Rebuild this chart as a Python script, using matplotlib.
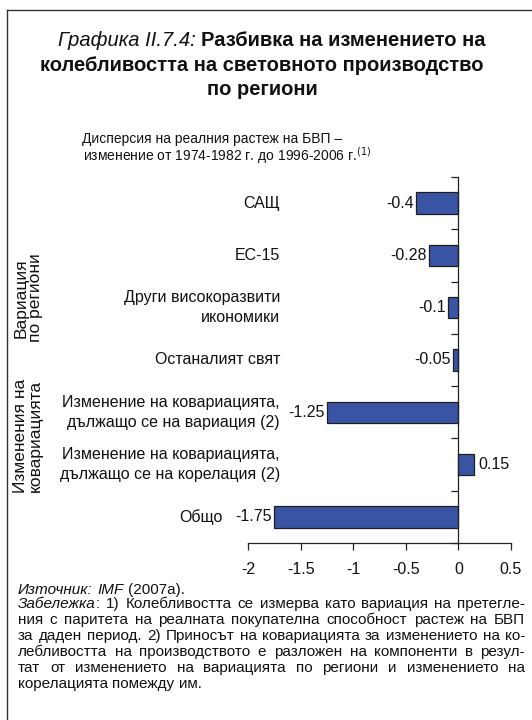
import matplotlib
matplotlib.use("Agg")
import matplotlib.pyplot as plt
from matplotlib.lines import Line2D

# ---- data ----
categories = [
    "САЩ",
    "ЕС-15",
    "Други високоразвити\nикономики",
    "Останалият свят",
    "Изменение на ковариацията,\nдължащо се на вариация (2)",
    "Изменение на ковариацията,\nдължащо се на корелация (2)",
    "Общо",
]
values = [-0.4, -0.28, -0.1, -0.05, -1.25, 0.15, -1.75]
x_ticks = [-2, -1.5, -1, -0.5, 0, 0.5]
x_tick_labels = ["-2", "-1.5", "-1", "-0.5", "0", "0.5"]
group_labels = ["Вариация\nпо региони", "Изменения на\nковариацията"]

title_prefix = "Графика II.7.4:"
title_lines = ["Разбивка на изменението на",
               "колебливостта на световното производство",
               "по региони"]
subtitle_lines = ["Дисперсия на реалния растеж на БВП –",
                  r"изменение от 1974-1982 г. до 1996-2006 г.$^{\rm (1)}$"]
source_line = "*Източник: IMF* (2007a)."
note_lines = [
    "*Забележка*: 1) Колебливостта се измерва като вариация на претегле-",
    "ния с паритета на реалната покупателна способност растеж на БВП",
    "за даден период. 2) Приносът на ковариацията за изменението на ко-",
    "лебливостта на производството е разложен на компоненти в резул-",
    "тат от изменението на вариацията по региони и изменението на",
    "корелацията помежду им.",
]

# ---- style ----
plt.rcParams["font.family"] = ["Liberation Sans", "DejaVu Sans"]
BAR_COLOR = "#3a54a4"
EDGE_COLOR = "#1e1e1e"
TEXT_COLOR = "#111111"
LABEL_SIZE = 11.5

W, H = 532, 720
fig = plt.figure(figsize=(W / 100, H / 100), dpi=100)


def fx(x):
    return x / W


def fy(y):
    return 1 - y / H


# frame (top and left rules)
fig.add_artist(Line2D([fx(7), fx(W)], [fy(10), fy(10)], color="#333333", lw=1.0))
fig.add_artist(Line2D([fx(7), fx(7)], [fy(10), fy(H)], color="#333333", lw=1.0))

# ---- axes ----
ax = fig.add_axes([fx(248), fy(543), fx(511) - fx(248), (543 - 177) / H])
n = len(categories)
ypos = list(range(n))
ax.barh(ypos, values, height=0.41, color=BAR_COLOR, edgecolor=EDGE_COLOR, linewidth=0.9, zorder=3)
ax.set_xlim(-2, 0.5)
ax.set_ylim(n - 0.5, -0.5)

for s in ("top", "right"):
    ax.spines[s].set_visible(False)
ax.spines["left"].set_position(("data", 0))
ax.spines["left"].set_color("#222222")
ax.spines["bottom"].set_color("#222222")
ax.spines["left"].set_linewidth(0.9)
ax.spines["bottom"].set_linewidth(0.9)
ax.spines["left"].set_zorder(4)

ax.set_yticks([i - 0.5 for i in range(n + 1)])
ax.set_yticklabels([])
ax.tick_params(axis="y", direction="out", length=5, width=0.9, color="#222222")
ax.set_xticks(x_ticks)
ax.set_xticklabels(x_tick_labels)
ax.tick_params(axis="x", direction="out", length=5, width=0.9, color="#222222",
               pad=9, labelsize=11.5, labelcolor=TEXT_COLOR)

# value labels next to bar ends
for i, v in enumerate(values):
    if v < 0:
        ax.annotate(f"{v:g}", (v, i), xytext=(-1.5, 0), textcoords="offset points",
                    ha="right", va="center", fontsize=LABEL_SIZE, color=TEXT_COLOR)
    else:
        ax.annotate(f"{v:g}", (v, i), xytext=(3, 0), textcoords="offset points",
                    ha="left", va="center", fontsize=LABEL_SIZE, color=TEXT_COLOR)

# category labels
px_per_unit = (511 - 248) / 2.5
zero_px = 248 + 2 * px_per_unit
for i, lab in enumerate(categories):
    right_px = 223 if i == n - 1 else 280
    ax.text((right_px - zero_px) / px_per_unit, i, lab, ha="right", va="center",
            multialignment="right", fontsize=LABEL_SIZE, linespacing=1.4,
            color=TEXT_COLOR, clip_on=False)

# group labels (rotated)
for lab, yc in zip(group_labels, [298, 436]):
    fig.text(fx(28), fy(yc), lab, rotation=90, ha="center", va="center",
             multialignment="center", fontsize=12.5, color=TEXT_COLOR, linespacing=0.95)

# ---- title ----
renderer = fig.canvas.get_renderer()
TITLE_SIZE = 14.5
t_it = fig.text(0, fy(46), title_prefix, style="italic", fontsize=TITLE_SIZE,
                ha="left", va="baseline", color=TEXT_COLOR)
t_bd = fig.text(0, fy(46), title_lines[0], weight="bold", fontsize=TITLE_SIZE,
                ha="left", va="baseline", color=TEXT_COLOR)
w_it = t_it.get_window_extent(renderer).width
w_bd = t_bd.get_window_extent(renderer).width
gap = 5
start = 272 - (w_it + gap + w_bd) / 2
t_it.set_x(fx(start))
t_bd.set_x(fx(start + w_it + gap))
for line, yb in zip(title_lines[1:], [71, 95]):
    fig.text(fx(262), fy(yb), line, weight="bold", fontsize=TITLE_SIZE, ha="center",
             va="baseline", color=TEXT_COLOR)

# ---- subtitle ----
fig.text(fx(212), fy(143), subtitle_lines[0], fontsize=10, ha="center",
         va="baseline", color=TEXT_COLOR)
fig.text(fx(227), fy(161), subtitle_lines[1], fontsize=10, ha="center",
         va="baseline", color=TEXT_COLOR)


# ---- source and notes (justified block) ----
def parse_words(line, italic):
    words = []
    for raw in line.split(" "):
        segs = []
        buf = ""
        for ch in raw:
            if ch == "*":
                if buf:
                    segs.append((buf, italic))
                    buf = ""
                italic = not italic
            else:
                buf += ch
        if buf:
            segs.append((buf, italic))
        words.append(segs)
    return words, italic


def text_width(s, size):
    t = fig.text(0, 0, s, fontsize=size)
    w = t.get_window_extent(renderer).width
    t.remove()
    return w


def draw_block(lines, x0, x1, y0, step, size):
    italic = False
    natural_space = text_width("a a", size) - text_width("aa", size)
    for k, line in enumerate(lines):
        words, italic = parse_words(line, italic)
        y = fy(y0 + k * step)
        objs = []
        widths = []
        for segs in words:
            wo = []
            ww = 0
            for txt, it in segs:
                t = fig.text(0, y, txt, fontsize=size, style="italic" if it else "normal",
                             ha="left", va="baseline", color=TEXT_COLOR)
                w = t.get_window_extent(renderer).width
                wo.append((t, w))
                ww += w
            objs.append(wo)
            widths.append(ww)
        space = natural_space
        last = k == len(lines) - 1
        if not last and len(words) > 1:
            space = (x1 - x0 - sum(widths)) / (len(words) - 1)
        x = x0
        for wo in objs:
            for t, w in wo:
                t.set_x(fx(x))
                x += w
            x += space


NOTE_SIZE = 11
draw_block([source_line], 18, 525, 594, 16, NOTE_SIZE)
draw_block(note_lines, 18, 525, 608, 16, NOTE_SIZE)

fig.savefig("out.png", dpi=100)
